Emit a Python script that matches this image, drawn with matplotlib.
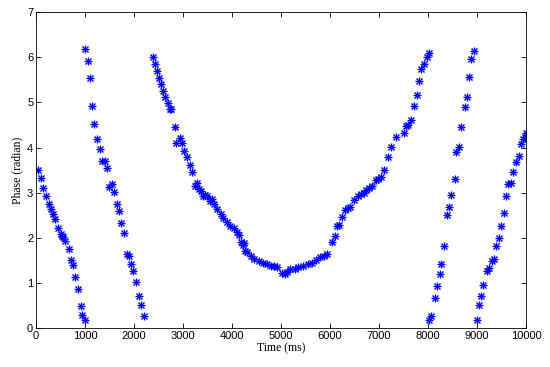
import numpy as np
import matplotlib
matplotlib.use("Agg")
import matplotlib.pyplot as plt

# phase samples, one list per wrap segment
t_seg1 = [41, 109, 150, 197, 259, 299, 354, 395, 449, 503, 524, 544, 599, 667,
          707, 748, 789, 850, 912, 946, 1007]
p_seg1 = [3.51, 3.33, 3.11, 2.92, 2.76, 2.64, 2.53, 2.42, 2.22, 2.09, 2.05, 2.02,
          1.93, 1.75, 1.51, 1.39, 1.14, 0.87, 0.48, 0.30, 0.18]

t_seg2 = [1000, 1061, 1102, 1150, 1190, 1252, 1306, 1347, 1401, 1442, 1497, 1551,
          1592, 1646, 1687, 1741, 1803, 1850, 1898, 1946, 1986, 2041, 2095, 2136, 2204]
p_seg2 = [6.18, 5.91, 5.54, 4.92, 4.52, 4.18, 3.97, 3.71, 3.70, 3.54, 3.13, 3.20,
          3.01, 2.74, 2.59, 2.32, 2.11, 1.64, 1.60, 1.42, 1.27, 1.03, 0.72, 0.51, 0.27]

t_seg3 = [2384, 2425, 2466, 2507, 2548, 2589, 2630, 2685, 2726, 2760, 2836, 2863,
          2932, 2986, 3027, 3082, 3137, 3192, 3247, 3288, 3329, 3370, 3411, 3452,
          3493, 3548, 3589, 3630, 3699, 3767, 3822, 3904, 3959, 4041, 4096, 4137,
          4192, 4219, 4247, 4274, 4315, 4384, 4452, 4548, 4630, 4712, 4795, 4849,
          4918, 5027, 5082, 5123, 5178, 5288, 5356, 5452, 5548, 5630, 5712, 5795,
          5877, 5932, 6041, 6096, 6137, 6178, 6247, 6315, 6356, 6411, 6493, 6562,
          6630, 6685, 6740, 6795, 6849, 6932, 6986, 7041, 7110, 7178, 7241, 7338,
          7517, 7559, 7600, 7655, 7710, 7766, 7821, 7862, 7917, 7972, 8014]
p_seg3 = [6.00, 5.84, 5.70, 5.54, 5.41, 5.26, 5.13, 4.98, 4.85, 4.85, 4.45, 4.11,
          4.21, 4.10, 3.92, 3.80, 3.61, 3.45, 3.14, 3.21, 3.09, 3.03, 2.93, 2.94,
          2.92, 2.82, 2.87, 2.75, 2.63, 2.53, 2.43, 2.35, 2.27, 2.21, 2.13, 2.07,
          1.90, 1.84, 1.88, 1.70, 1.69, 1.60, 1.54, 1.49, 1.45, 1.41, 1.38, 1.37,
          1.35, 1.22, 1.20, 1.25, 1.32, 1.32, 1.35, 1.38, 1.41, 1.45, 1.51, 1.57,
          1.60, 1.65, 1.90, 2.04, 2.27, 2.28, 2.46, 2.62, 2.65, 2.68, 2.83, 2.93,
          2.97, 3.00, 3.05, 3.11, 3.15, 3.28, 3.31, 3.34, 3.51, 3.79, 4.02, 4.24,
          4.32, 4.47, 4.51, 4.61, 4.91, 5.16, 5.47, 5.73, 5.85, 6.00, 6.10]

t_seg4 = [8014, 8069, 8138, 8179, 8234, 8262, 8331, 8386, 8428, 8469, 8552, 8579,
          8634, 8676, 8745, 8800, 8828, 8883, 8938]
p_seg4 = [0.17, 0.26, 0.67, 0.94, 1.19, 1.42, 1.82, 2.50, 2.68, 2.94, 3.31, 3.89,
          4.02, 4.45, 4.89, 5.11, 5.57, 5.97, 6.13]

t_seg5 = [8993, 9034, 9076, 9131, 9200, 9241, 9297, 9338, 9393, 9448, 9490, 9545,
          9600, 9641, 9697, 9738, 9793, 9848, 9890, 9931, 9972, 10000]
p_seg5 = [0.17, 0.51, 0.72, 0.95, 1.26, 1.34, 1.48, 1.54, 1.82, 2.00, 2.27, 2.56,
          2.92, 3.20, 3.21, 3.45, 3.68, 3.82, 4.08, 4.18, 4.24, 4.33]

time = t_seg1 + t_seg2 + t_seg3 + t_seg4 + t_seg5
phase = p_seg1 + p_seg2 + p_seg3 + p_seg4 + p_seg5

fig = plt.figure(figsize=(5.5, 3.67), dpi=100)
ax = fig.add_axes([0.0655, 0.106, 0.891, 0.861])

# matlab style asterisk: '+' with 'x' on top
ax.plot(time, phase, linestyle='none', marker='+', color='#0000ff',
        markersize=6, markeredgewidth=1.0)
ax.plot(time, phase, linestyle='none', marker='x', color='#0000ff',
        markersize=4.5, markeredgewidth=1.0)

ax.set_xlim(0, 10000)
ax.set_ylim(0, 7)
ax.set_xticks(np.arange(0, 10001, 1000))
ax.set_yticks(np.arange(0, 8, 1))
ax.tick_params(direction='in', top=True, right=True, length=3.5, width=0.6,
               labelsize=8, pad=2)
for lbl in ax.get_xticklabels() + ax.get_yticklabels():
    lbl.set_family('Liberation Sans')
for s in ax.spines.values():
    s.set_linewidth(0.6)

ax.set_xlabel('Time (ms)', family='Liberation Serif', fontsize=8.5, labelpad=1)
ax.set_ylabel('Phase (radian)', family='Liberation Serif', fontsize=8.5, labelpad=3)

fig.savefig('out.png', dpi=100)
